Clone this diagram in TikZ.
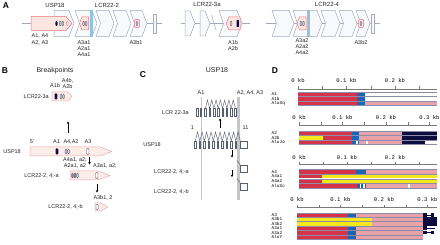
\documentclass[tikz,border=0pt]{standalone}
\usepackage{fontspec}
\setmainfont{Liberation Sans}
\newfontfamily\monof{Liberation Mono}
\usetikzlibrary{arrows.meta}
\definecolor{gline}{HTML}{A3AABA}
\definecolor{gfill}{HTML}{F8F9FC}
\definecolor{rline}{HTML}{E8757A}
\definecolor{rfill}{HTML}{FCE6E2}
\definecolor{bline}{HTML}{EFA6A6}
\definecolor{bfill}{HTML}{FDEDE9}
\definecolor{bbar}{HTML}{8FC4DE}
\definecolor{exg}{HTML}{5A5F70}
\definecolor{exf}{HTML}{C8CBD4}
\definecolor{dred}{HTML}{D6334B}
\definecolor{dblue}{HTML}{1B65B2}
\definecolor{dpink}{HTML}{E8A2A9}
\definecolor{dnavy}{HTML}{0C0C3E}
\definecolor{dyel}{HTML}{F5E81C}
\definecolor{rowln}{HTML}{8A8CA8}
\definecolor{axc}{HTML}{7A7A7A}
\definecolor{bandc}{HTML}{C6C6C6}
\tikzset{
  gblk/.style={draw=gline, fill=gfill, line width=0.5pt, line join=round},
  rbx/.style={draw=rline, fill=rfill, line width=0.5pt, line join=round},
  bbx/.style={draw=bline, fill=bfill, line width=0.5pt, line join=round},
  exo/.style={draw=exg, fill=exf, line width=0.35pt},
  exw/.style={draw=exg, fill=white, line width=0.4pt},
  lbl/.style={font=\fontsize{5.5}{6}\selectfont, inner sep=0pt, text=black!85},
  ttl/.style={font=\fontsize{6}{7}\selectfont, inner sep=0pt, text=black!85},
  ttlb/.style={font=\fontsize{7}{8}\selectfont, inner sep=0pt, text=black!85},
  plet/.style={font=\bfseries\fontsize{8.5}{9}\selectfont, inner sep=0pt},
  arr/.style={-{Stealth[length=2.4pt,width=2.6pt]}, line width=0.9pt},
  mlbl/.style={font=\monof\fontsize{5.6}{6}\selectfont, inner sep=0pt},
  rlbl/.style={font=\monof\fontsize{4.4}{4.4}\selectfont, inner sep=0pt, anchor=west},
  rowl/.style={draw=rowln, line width=0.3pt},
  axl/.style={draw=axc, line width=0.5pt},
  zig/.style={draw=exg, line width=0.4pt, line join=miter},
}
\newcommand\hexb[2]{\draw[gblk] (#1,10.5) -- (#2-5,10.5) -- (#2,23.5) -- (#2-5,36.5) -- (#1,36.5) -- (#1+4.5,23.5) -- cycle;}
\newcommand\sg[4]{\fill[#1] (#2,#4) rectangle (#3,#4+4.4);}
\begin{document}
\begin{tikzpicture}[x=1pt,y=-1pt]
\useasboundingbox (0,0) rectangle (440,245);
\fill[white] (0,0) rectangle (440,245);

% ================= Panel A =================
\node[plet] (pA) at (6,6) {A};
\draw[gline, line width=0.5pt] (22,23.5) -- (31,23.5);
\draw[gblk] (54,10.5) -- (69,10.5) -- (74,23.5) -- (69,36.5) -- (54,36.5) -- cycle;
\draw[rbx] (31,16.5) -- (66,16.5) -- (72,23.5) -- (66,30.5) -- (31,30.5) -- cycle;
\fill[dnavy] (56.5,23.5) ellipse (1.2 and 2.6);
\draw[exo] (60.3,23.5) ellipse (1 and 2.3);
\draw[exo] (62.8,23.5) ellipse (1 and 2.3);
\draw[draw=rline, fill=white, line width=0.4pt] (67.3,23.5) ellipse (0.9 and 2);
% LCR22-2
\hexb{75}{97}
\draw[rbx] (88.5,17) -- (82,17) -- (79.5,23.5) -- (82,30) -- (88.5,30) -- cycle;
\draw[exo] (83.6,23.5) ellipse (1 and 2.3);
\draw[exo] (86.1,23.5) ellipse (1 and 2.3);
\fill[bbar] (89.5,10.2) rectangle (92.8,36.8);
\hexb{96}{114}
\hexb{113}{131}
\hexb{130}{147}
\draw[rbx, rounded corners=1pt] (134.5,19.5) rectangle (139.5,27.5);
\draw[exo] (137,23.5) ellipse (0.9 and 2);
\draw[gline, line width=0.5pt] (147,23.5) -- (162,23.5);
\draw[gblk] (153,14) rectangle (156.5,33);
% LCR22-3a
\draw[gline, line width=0.5pt] (181,23.5) -- (250,23.5);
\draw[gblk] (185,11) -- (190,11) -- (195,23.5) -- (190,36) -- (185,36) -- cycle;
\draw[gblk] (200,11) -- (205,11) -- (210,23.5) -- (205,36) -- (200,36) -- cycle;
\draw[gline, line width=0.5pt] (211.5,15) -- (216,30);
\hexb{219}{242}
\draw[rbx] (240,17) -- (229,17) -- (226,23.5) -- (229,30) -- (240,30) -- cycle;
\draw[exo] (231,23.5) ellipse (1 and 2.3);
\fill[dnavy, rounded corners=0.5pt] (236.6,20) rectangle (238.8,27);
% LCR22-4
\draw[gline, line width=0.5pt] (266,23.5) -- (380,23.5);
\hexb{272}{294}
\hexb{293}{322}
\draw[rbx] (306,17) -- (299.5,17) -- (297,23.5) -- (299.5,30) -- (306,30) -- cycle;
\draw[exo] (301,23.5) ellipse (1 and 2.3);
\draw[exo] (303.5,23.5) ellipse (1 and 2.3);
\fill[bbar] (306.5,10.2) rectangle (309.8,36.8);
\hexb{321}{340}
\hexb{339}{357}
\hexb{356}{370}
\draw[rbx, rounded corners=1pt] (358.5,19.5) rectangle (363.5,27.5);
\draw[exo] (361,23.5) ellipse (0.9 and 2);
\draw[gblk] (371,14) rectangle (374.5,33);
% labels A
\node[ttl] (tUSP) at (55,5) {USP18};
\node[ttl] (tL2) at (107,5) {LCR22-2};
\node[ttl] (tL3) at (207,4.5) {LCR22-3a};
\node[ttl] (tL4) at (327,4.5) {LCR22-4};
\node[lbl] (la1) at (40,35.5) {A1, A4};
\node[lbl] (la2) at (40,42.5) {A2, A3};
\node[lbl] (la3) at (84,42.5) {A3a1};
\node[lbl] (la4) at (84,48.8) {A2a1};
\node[lbl] (la5) at (84,55) {A4a1};
\node[lbl] (la6) at (136,42.5) {A3b1};
\node[lbl] (la7) at (233,42.5) {A1b};
\node[lbl] (la8) at (233,48.5) {A2b};
\node[lbl] (la9) at (302,40.5) {A3a2};
\node[lbl] (la10) at (302,46.5) {A2a2};
\node[lbl] (la11) at (302,52.5) {A4a2};
\node[lbl] (la12) at (361,42.5) {A3b2};

% ================= Panel B =================
\node[plet] (pB) at (5,71) {B};
\node[ttlb] (tBrk) at (55,70.5) {Breakpoints};
\node[lbl] (bA1b) at (55,86) {A1b};
\node[lbl] (bA4b) at (67.5,80.5) {A4b,};
\node[lbl] (bA2b) at (67.5,86.5) {A2b};
\node[lbl, anchor=east] (bL3) at (49,96.5) {LCR22-3a};
\draw[bbx] (52,92) -- (68,92) -- (72,96.5) -- (68,101) -- (52,101) -- cycle;
\fill[dnavy, rounded corners=1pt] (54.5,93.5) rectangle (57.3,99.5);
\draw[exo] (61,96.5) ellipse (1 and 2.5);
\draw[exo] (63.5,96.5) ellipse (1 and 2.5);
\coordinate (bu1) at (68,133);
\coordinate (bu2) at (68,121.5);
\draw[arr] (bu1) -- (bu2);
\node[lbl] (b5) at (32,142) {5'};
\node[lbl] (bA1) at (56.5,142) {A1};
\node[lbl] (bA42) at (71,142) {A4,A2};
\node[lbl] (bA3) at (88,142) {A3};
\node[lbl, anchor=east] (bUSP) at (21,151.5) {USP18};
\draw[bbx] (30,147) -- (100,147) -- (112,151.5) -- (100,156) -- (30,156) -- cycle;
\fill[dnavy, rounded corners=1pt] (55.5,148.5) rectangle (58.3,154.5);
\draw[exo] (66,151.5) ellipse (1 and 2.5);
\draw[exo] (68.5,151.5) ellipse (1 and 2.5);
\draw[exw, rounded corners=1pt] (86.5,148.5) rectangle (89,154.5);
\coordinate (bd1) at (89.5,157.5);
\coordinate (bd2) at (89.5,164.5);
\draw[arr] (bd1) -- (bd2);
\node[lbl] (bA4a) at (75,160) {A4a1, a2;};
\node[lbl] (bA2a) at (75,166) {A2a1, a2};
\node[lbl] (bA3a) at (105,166) {A3a1, a2;};
\node[lbl, anchor=east] (bL2a) at (59,175.5) {LCR22-2, 4;-a};
\draw[bbx] (70,171) -- (98,171) -- (110,175.5) -- (98,180) -- (70,180) -- cycle;
\draw[exo, fill=exg!70] (72.5,175.5) ellipse (1 and 2.5);
\draw[exo, fill=exg!70] (75,175.5) ellipse (1 and 2.5);
\draw[exo] (77.5,175.5) ellipse (1 and 2.5);
\draw[exw, rounded corners=1pt] (95.5,172.5) rectangle (98,178.5);
\coordinate (bd3) at (97,184.5);
\coordinate (bd4) at (97,192.5);
\draw[arr] (bd3) -- (bd4);
\node[lbl] (bA3b) at (103,198) {A3b1, 2};
\node[lbl, anchor=east] (bL2b) at (83,207) {LCR22-2, 4;-b};
\draw[bbx] (95,203) -- (101,203) -- (108,207) -- (101,211) -- (95,211) -- cycle;
\draw[exw, rounded corners=1pt] (96,204.3) rectangle (98.5,209.7);

% ================= Panel C =================
\node[plet] (pC) at (143,75) {C};
\node[ttlb] (tCU) at (217,70.5) {USP18};
\draw[bandc, line width=1.6pt] (201.5,97) -- (201.5,200);
\draw[bandc, line width=2.6pt] (238.5,97) -- (238.5,200);
\node[lbl] (cA1) at (201,93) {A1};
\node[lbl] (cA2) at (250,93) {A2, A4, A3};
\node[lbl, anchor=east] (cL3) at (189,112.5) {LCR 22-3a};
% LCR row exons
\draw[exw] (196.2,108.5) rectangle (197.8,116.5);
\draw[exw] (199.7,108.5) rectangle (201.3,116.5);
\draw[zig] (205.3,108.5) \foreach \j in {0,...,6} { -- (207.45+4.3*\j,100) -- (209.6+4.3*\j,108.5) };
\foreach \j in {0,...,7} \draw[exw] (204.5+4.3*\j,108.5) rectangle (206.1+4.3*\j,116.5);
\coordinate (cu1) at (220,128);
\coordinate (cu2) at (220,118.5);
\draw[arr] (cu1) -- (cu2);
\node[lbl] (c1) at (192.5,127.5) {1};
\node[lbl] (c11) at (245.5,127.5) {11};
\node[lbl, anchor=east] (cU) at (161,145) {USP18};
\draw[zig] (195.3,141) \foreach \i in {0,...,9} { -- (197.55+4.5*\i,132) -- (199.8+4.5*\i,141) };
\foreach \i in {0,...,9} \draw[exw] (194.5+4.5*\i,141) rectangle (196.1+4.5*\i,148);
\draw[exw] (240.5,141.5) rectangle (247,148);
\coordinate (cd1) at (232,150.5);
\coordinate (cd2) at (232,157.5);
\draw[arr, line width=0.8pt] (cd1) -- (cd2);
\coordinate (cd3) at (232,170);
\coordinate (cd4) at (232,177);
\draw[arr, line width=0.8pt] (cd3) -- (cd4);
\node[lbl] (cLa) at (171.5,172) {LCR22-2, 4;-a};
\draw[exg, line width=0.4pt] (237,160.5) -- (241,166);
\draw[exw] (240.5,165) rectangle (247,172);
\node[lbl] (cLb) at (171.5,192) {LCR22-2, 4;-b};
\draw[exg, line width=0.4pt] (237,178.5) -- (241,184);
\draw[exw] (240.5,183.5) rectangle (247,190.5);

% ================= Panel D =================
\node[plet] (pD) at (275,71) {D};
% panel 1
\draw[axl] (298,89) -- (437,89);
\foreach \k in {0,...,5} \draw[axl] (298+\k*24.25,89) -- (298+\k*24.25,86.5);
\node[mlbl] (d1a) at (298,81) {0 kb};
\node[mlbl] (d1b) at (346.5,81) {0.1 kb};
\node[mlbl] (d1c) at (395,81) {0.2 kb};
\sg{dred}{298}{357}{92} \sg{dblue}{357}{365}{92}
\sg{dred}{298}{357}{96.4} \sg{dblue}{357}{365}{96.4}
\sg{dred}{298}{357}{100.8} \sg{dblue}{357}{365}{100.8} \sg{dpink}{365}{437}{100.8}
\foreach \yy in {92,96.4,100.8,105.2} \draw[rowl] (298,\yy) -- (437,\yy);
\node[rlbl] (r1a) at (271.5,94.2) {A1};
\node[rlbl] (r1b) at (271.5,98.6) {A1b};
\node[rlbl] (r1c) at (271.5,103) {AluSq};
% panel 2
\draw[axl] (299,125) -- (437,125);
\foreach \k in {0,...,6} \draw[axl] (299+\k*21.75,125) -- (299+\k*21.75,122.5);
\node[mlbl] (d2a) at (299,118) {0 kb};
\node[mlbl] (d2b) at (342.5,118) {0.1 kb};
\node[mlbl] (d2c) at (386,118) {0.2 kb};
\node[mlbl] (d2d) at (429.5,118) {0.3 kb};
\sg{dred}{299}{352}{131} \sg{dblue}{352}{359}{131} \sg{dpink}{359}{402}{131} \sg{dnavy}{402}{437}{131}
\sg{dyel}{299}{323}{135.4} \sg{dred}{323}{352}{135.4} \sg{dblue}{352}{359}{135.4} \sg{dpink}{359}{402}{135.4} \sg{dnavy}{402}{437}{135.4}
\sg{dred}{299}{352}{139.8} \sg{dblue}{352}{356}{139.8} \sg{dblue}{357.5}{359}{139.8} \sg{dpink}{359}{366}{139.8} \sg{dpink}{368}{402}{139.8} \sg{dnavy}{402}{425}{139.8}
\foreach \yy in {131,135.4,139.8,144.2} \draw[rowl] (299,\yy) -- (437,\yy);
\node[rlbl] (r2a) at (271.5,133.2) {A2};
\node[rlbl] (r2b) at (271.5,137.6) {A2b};
\node[rlbl] (r2c) at (271.5,142) {AluJo};
% panel 3
\draw[axl] (299,164.5) -- (437,164.5);
\foreach \k in {0,...,5} \draw[axl] (299+\k*24,164.5) -- (299+\k*24,162);
\node[mlbl] (d3a) at (299,158) {0 kb};
\node[mlbl] (d3b) at (347,158) {0.1 kb};
\node[mlbl] (d3c) at (395,158) {0.2 kb};
\sg{dred}{299}{356}{169.5} \sg{dblue}{356}{366}{169.5} \sg{dpink}{366}{437}{169.5}
\sg{dred}{299}{322}{174.1} \sg{dyel}{322}{437}{174.1}
\sg{dred}{299}{322}{178.7} \sg{dyel}{322}{437}{178.7}
\sg{dred}{299}{357}{183.3} \sg{dblue}{357}{359.5}{183.3} \sg{dblue}{361}{363}{183.3} \sg{dblue}{364.5}{366}{183.3} \sg{dpink}{366}{408}{183.3} \sg{dpink}{410}{437}{183.3}
\foreach \yy in {169.5,174.1,178.7,183.3,187.7} \draw[rowl] (299,\yy) -- (437,\yy);
\node[rlbl] (r3a) at (271.5,171.7) {A4};
\node[rlbl] (r3b) at (271.5,176.3) {A4a1};
\node[rlbl] (r3c) at (271.5,180.9) {A4a2};
\node[rlbl] (r3d) at (271.5,185.5) {AluSc};
% panel 4
\draw[axl] (297,207.5) -- (437,207.5);
\foreach \k in {0,...,6} \draw[axl] (297+\k*21.75,207.5) -- (297+\k*21.75,205);
\node[mlbl] (d4a) at (297,200) {0 kb};
\node[mlbl] (d4b) at (340.5,200) {0.1 kb};
\node[mlbl] (d4c) at (384,200) {0.2 kb};
\node[mlbl] (d4d) at (427.5,200) {0.3 kb};
\sg{dred}{297}{348}{212.8} \sg{dblue}{348}{356}{212.8} \sg{dpink}{356}{422.7}{212.8}
\sg{dyel}{297}{372}{217.2} \sg{dpink}{372}{422.7}{217.2}
\sg{dyel}{297}{372}{221.6} \sg{dpink}{372}{422.7}{221.6}
\sg{dred}{297}{348}{226} \sg{dblue}{348}{356}{226} \sg{dpink}{356}{422.7}{226}
\sg{dred}{297}{348}{230.4} \sg{dblue}{348}{356}{230.4} \sg{dpink}{356}{422.7}{230.4}
\sg{dred}{297}{348}{234.8} \sg{dblue}{348}{356}{234.8} \sg{dpink}{356}{422.7}{234.8}
\foreach \yy in {212.8,217.2,221.6,226,230.4,234.8,239.2} \draw[rowl] (297,\yy) -- (422.7,\yy);
\fill[dnavy] (422.7,213.2) rectangle (426.7,216.8);
\draw[dnavy, line width=0.7pt] (426.7,215) -- (430.5,215);
\fill[dnavy] (430.5,213.2) rectangle (434,216.8);
\fill[dnavy] (422.7,217.2) rectangle (437,226);
\fill[dnavy] (422.7,226.4) rectangle (426.5,230);
\draw[dnavy, line width=0.6pt] (426.5,228.2) -- (435,228.2);
\fill[dnavy] (422.7,230.8) rectangle (426.5,234.4);
\draw[dnavy, line width=0.6pt] (426.5,232.6) -- (430.5,232.6);
\fill[dnavy] (430.5,231.2) rectangle (433.5,234);
\node[rlbl] (r4a) at (271.5,215) {A3};
\node[rlbl] (r4b) at (271.5,219.4) {A3b1};
\node[rlbl] (r4c) at (271.5,223.8) {A3b2};
\node[rlbl] (r4d) at (271.5,228.2) {A3a1};
\node[rlbl] (r4e) at (271.5,232.6) {A3a2};
\node[rlbl] (r4f) at (271.5,237) {AluY};
\end{tikzpicture}
\end{document}
